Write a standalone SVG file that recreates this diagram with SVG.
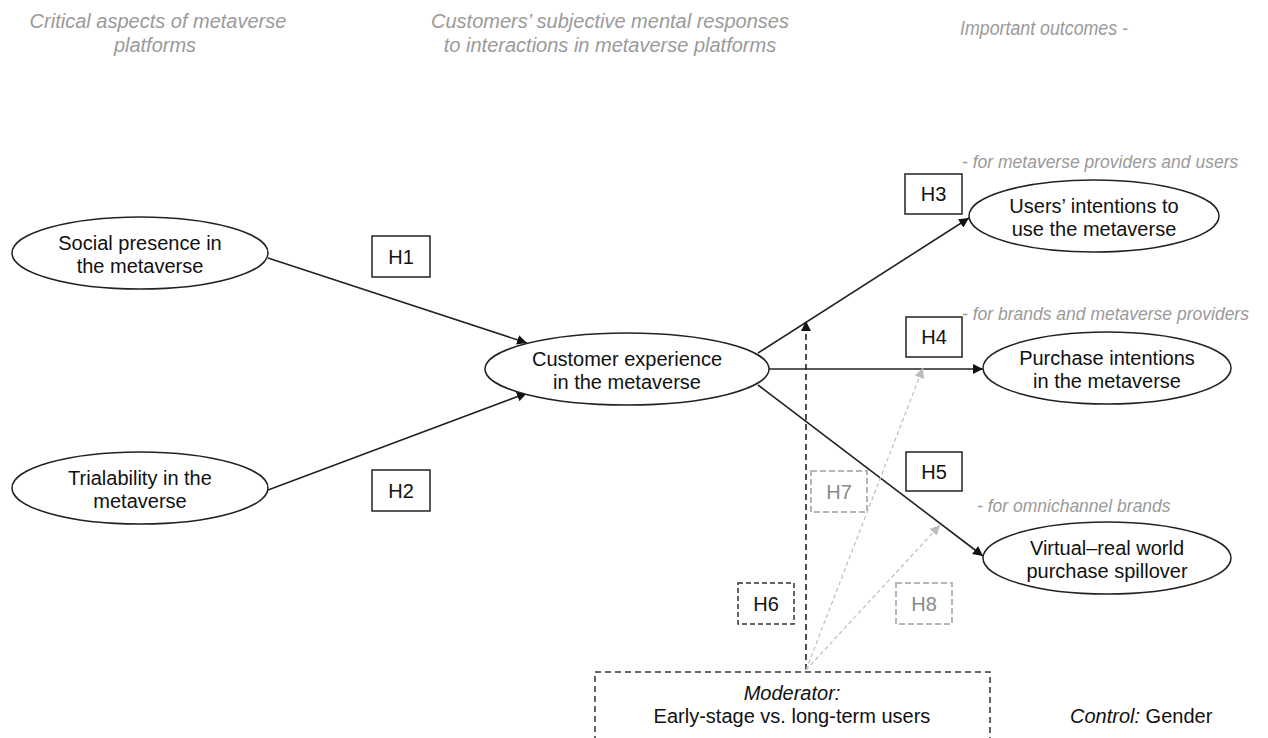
<svg xmlns="http://www.w3.org/2000/svg" width="1268" height="738" viewBox="0 0 1268 738">
<style>
text{font-family:"Liberation Sans",Arial,sans-serif}
.hd{font-size:20px;font-style:italic;fill:#9a9a9a;text-anchor:middle}
.sub{font-size:17.5px;font-style:italic;fill:#9a9a9a}
.nt{font-size:20px;fill:#111;text-anchor:middle}
.el{fill:#fff;stroke:#222;stroke-width:1.5}
.hb{fill:#fff;stroke:#222;stroke-width:1.5}
.hbd{fill:#fff;stroke:#333;stroke-width:1.5;stroke-dasharray:5,3}
.hbg{fill:#fff;stroke:#b5b5b5;stroke-width:2;stroke-dasharray:6,3}
.ln{stroke:#222;stroke-width:1.6;fill:none}
.dl{stroke:#222;stroke-width:1.6;fill:none;stroke-dasharray:6,4}
.gl{stroke:#bdbdbd;stroke-width:1.2;fill:none;stroke-dasharray:4,3}
</style>
<defs>
<marker id="ar" viewBox="0 0 10 10" refX="10" refY="5" markerWidth="10" markerHeight="10" markerUnits="userSpaceOnUse" orient="auto"><path d="M0,0 L10,5 L0,10 z" fill="#111"/></marker>
<marker id="ag" viewBox="0 0 10 10" refX="10" refY="5" markerWidth="10" markerHeight="10" markerUnits="userSpaceOnUse" orient="auto"><path d="M0,0 L10,5 L0,10 z" fill="#bdbdbd"/></marker>
</defs>
<rect width="1268" height="738" fill="#fff"/>
<g id="headers">
<text class="hd" x="158" y="28">Critical aspects of metaverse</text>
<text class="hd" x="155" y="52">platforms</text>
<text class="hd" x="610" y="28">Customers’ subjective mental responses</text>
<text class="hd" x="610" y="52">to interactions in metaverse platforms</text>
<text class="hd" x="1044" y="35" textLength="168" lengthAdjust="spacingAndGlyphs">Important outcomes -</text>
<text class="sub" x="962" y="168">- for metaverse providers and users</text>
<text class="sub" x="962" y="320">- for brands and metaverse providers</text>
<text class="sub" x="977" y="512">- for omnichannel brands</text>
</g>
<g id="connectors">
<line class="ln" x1="268" y1="258" x2="527" y2="343" marker-end="url(#ar)"/>
<line class="ln" x1="268" y1="490" x2="527" y2="393" marker-end="url(#ar)"/>
<line class="ln" x1="758" y1="353" x2="969" y2="218" marker-end="url(#ar)"/>
<line class="ln" x1="769" y1="369" x2="983" y2="369" marker-end="url(#ar)"/>
<line class="ln" x1="758" y1="385" x2="983" y2="556" marker-end="url(#ar)"/>
<line class="dl" x1="806" y1="670" x2="806" y2="321" marker-end="url(#ar)"/>
<line class="gl" x1="806" y1="670" x2="923" y2="368" marker-end="url(#ag)"/>
<line class="gl" x1="806" y1="670" x2="940" y2="525" marker-end="url(#ag)"/>
</g>
<g id="social">
<ellipse class="el" cx="140" cy="253" rx="128" ry="36"/>
<text class="nt" x="140" y="250">Social presence in</text>
<text class="nt" x="140" y="273">the metaverse</text>
</g>
<g id="trialability">
<ellipse class="el" cx="140" cy="488" rx="128" ry="36"/>
<text class="nt" x="140" y="485">Trialability in the</text>
<text class="nt" x="140" y="508">metaverse</text>
</g>
<g id="customer">
<ellipse class="el" cx="627" cy="369" rx="142" ry="36"/>
<text class="nt" x="627" y="366">Customer experience</text>
<text class="nt" x="627" y="389">in the metaverse</text>
</g>
<g id="users">
<ellipse class="el" cx="1094" cy="216" rx="125" ry="36"/>
<text class="nt" x="1094" y="213">Users’ intentions to</text>
<text class="nt" x="1094" y="236">use the metaverse</text>
</g>
<g id="purchase">
<ellipse class="el" cx="1107" cy="368" rx="124" ry="36"/>
<text class="nt" x="1107" y="365">Purchase intentions</text>
<text class="nt" x="1107" y="388">in the metaverse</text>
</g>
<g id="spillover">
<ellipse class="el" cx="1107" cy="558" rx="124" ry="36"/>
<text class="nt" x="1107" y="555">Virtual–real world</text>
<text class="nt" x="1107" y="578">purchase spillover</text>
</g>
<g id="h1"><rect class="hb" x="372" y="236" width="58" height="41"/><text class="nt" x="401" y="264">H1</text></g>
<g id="h2"><rect class="hb" x="372" y="470" width="58" height="41"/><text class="nt" x="401" y="498">H2</text></g>
<g id="h3"><rect class="hb" x="905" y="174" width="57" height="40"/><text class="nt" x="933.5" y="201">H3</text></g>
<g id="h4"><rect class="hb" x="906" y="317" width="56" height="40"/><text class="nt" x="934" y="344">H4</text></g>
<g id="h5"><rect class="hb" x="906" y="452" width="56" height="39"/><text class="nt" x="934" y="479">H5</text></g>
<g id="h6"><rect class="hbd" x="738" y="583" width="56" height="41"/><text class="nt" x="766" y="611">H6</text></g>
<g id="h7"><rect class="hbg" x="811" y="471" width="56" height="41"/><text class="nt" x="839" y="499" style="fill:#8a8a8a">H7</text></g>
<g id="h8"><rect class="hbg" x="896" y="583" width="56" height="41"/><text class="nt" x="924" y="611" style="fill:#8a8a8a">H8</text></g>
<g id="moderator">
<rect x="595" y="672" width="395" height="80" fill="none" stroke="#333" stroke-width="1.5" stroke-dasharray="6,4"/>
<text class="nt" x="792" y="700" style="font-style:italic">Moderator:</text>
<text class="nt" x="792" y="723">Early-stage vs. long-term users</text>
</g>
<g id="control">
<text x="1070" y="723" style="font-size:20px;fill:#111"><tspan font-style="italic">Control:</tspan> Gender</text>
</g>
</svg>
